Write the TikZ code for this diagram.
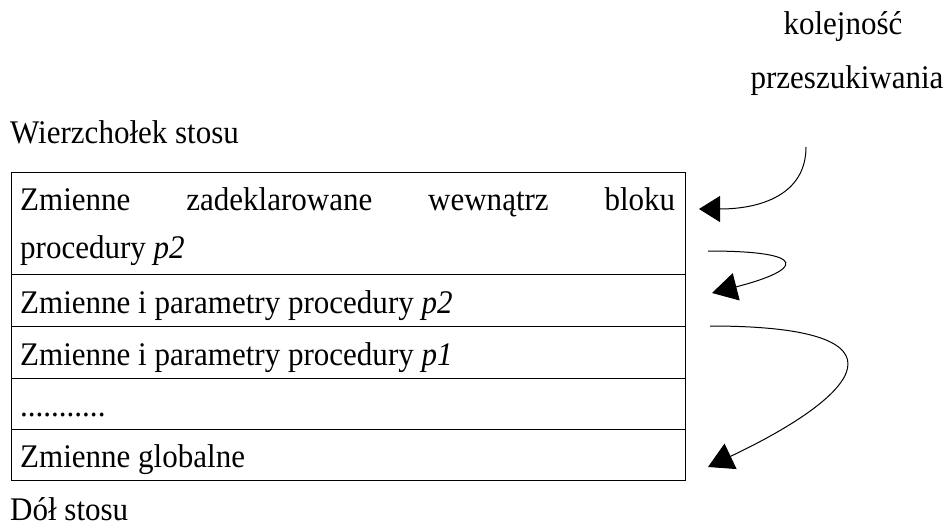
\documentclass[tikz,border=0pt]{standalone}
\usepackage{fontspec}
\setmainfont[FakeStretch=0.94]{Liberation Serif}
\usetikzlibrary{arrows.meta}
\begin{document}
\begin{tikzpicture}[x=1pt,y=-1pt,
  txt/.style={anchor=base west,inner sep=0pt,font=\fontsize{33}{40}\selectfont},
  ctxt/.style={anchor=base,inner sep=0pt,font=\fontsize{33}{40}\selectfont},
  row/.style={draw,line width=1.2pt,minimum width=674pt,inner sep=0pt,anchor=north west},
  arr/.style={line width=1pt,-{Triangle[length=21pt,width=26pt]}},
  bigarr/.style={line width=1pt,-{Triangle[length=25pt,width=28pt]}}]
\useasboundingbox (0,0) rectangle (952,530);
\node[ctxt] (k1) at (843,34) {kolejność};
\node[ctxt] (k2) at (847,88) {przeszukiwania};
\node[txt] (top) at (10,143) {Wierzchołek stosu};
\node[row,minimum height=102pt] (r1) at (11,172) {};
\node[row,minimum height=52pt] (r2) at (11,274) {};
\node[row,minimum height=52pt] (r3) at (11,326) {};
\node[row,minimum height=51pt] (r4) at (11,378) {};
\node[row,minimum height=51pt] (r5) at (11,429) {};
\node[txt] (t1a) at (20,210) {\makebox[655pt][s]{Zmienne zadeklarowane wewnątrz bloku}};
\node[txt] (t1b) at (20,258) {procedury \textit{p2}};
\node[txt] (t2) at (20,313) {Zmienne i parametry procedury \textit{p2}};
\node[txt] (t3) at (20,365) {Zmienne i parametry procedury \textit{p1}};
\node[txt] (t4) at (20,416) {...........};
\node[txt] (t5) at (20,467) {Zmienne globalne};
\node[txt] (bot) at (10,520) {Dół stosu};
\coordinate (a1s) at (806,147);
\coordinate (a1e) at (699,209);
\coordinate (a2s) at (708,251);
\coordinate (a2e) at (712,293);
\coordinate (a3s) at (710,326);
\coordinate (a3e) at (708,467);
\draw[arr] (a1s) .. controls (806,195) and (760,209) .. (a1e);
\draw[bigarr] (a2s) .. controls (812,251) and (802,270) .. (a2e);
\draw[bigarr] (a3s) .. controls (920,326) and (860,395) .. (a3e);
\end{tikzpicture}
\end{document}
